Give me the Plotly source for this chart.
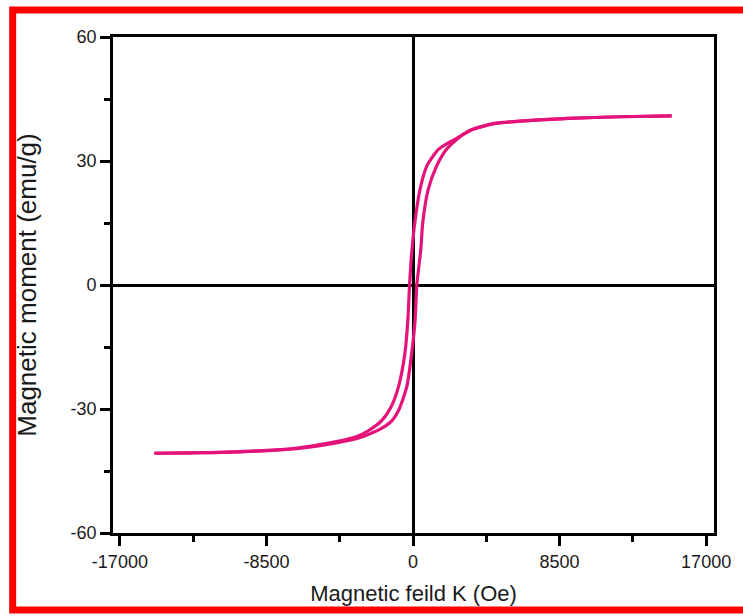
import plotly.graph_objects as go

# Descending branch (field swept from +15000 to -15000 Oe)
H_desc = [15000, 12000, 9000, 6400, 4700, 3350, 2450, 1900, 1445, 1100, 780, 400, 100,
          -60, -200, -300, -470, -840, -1250, -1790, -2570, -3300, -4450, -5800, -7300,
          -9000, -11100, -13000, -15000]
M_desc = [40.9, 40.7, 40.3, 39.7, 39.1, 37.5, 35.3, 34.0, 32.7, 30.8, 28.6, 23.0, 14.9,
          8.5, 0.0, -8.5, -16.5, -24.6, -29.3, -32.7, -35.2, -36.7, -37.9, -38.9, -39.7,
          -40.1, -40.5, -40.6, -40.7]

# Ascending branch (field swept from -15000 back up)
H_asc = [-15000, -13000, -11100, -9000, -7300, -5800, -4450, -3300, -2570, -1800, -1216,
         -800, -361, -76, 120, 220, 450, 560, 875, 1350, 1920, 2500, 3350, 4700, 6400,
         9000, 12000, 15000]
M_asc = [-40.7, -40.6, -40.5, -40.2, -39.8, -39.1, -38.2, -37.2, -36.1, -34.6, -32.8,
         -30.0, -24.6, -16.5, -8.5, 0.0, 8.5, 14.9, 23.0, 28.6, 32.7, 35.1, 37.4, 39.0,
         39.7, 40.3, 40.7, 40.9]

x_ticks = [-17000, -8500, 0, 8500, 17000]
y_ticks = [-60, -30, 0, 30, 60]

color = "#E4137A"
fig = go.Figure()
fig.add_trace(go.Scatter(x=H_desc, y=M_desc, mode="lines",
                         line=dict(color=color, width=3.2, shape="spline", smoothing=0.6),
                         showlegend=False))
fig.add_trace(go.Scatter(x=H_asc, y=M_asc, mode="lines",
                         line=dict(color=color, width=3.2, shape="spline", smoothing=0.6),
                         showlegend=False))

font = "Arial, Liberation Sans, sans-serif"
txt = "#1a1a1a"
axis_common = dict(showline=True, mirror=True, linecolor="black", linewidth=2.8,
                   ticks="outside", ticklen=10, tickwidth=2.8, tickcolor="black",
                   showgrid=False, zeroline=True, zerolinecolor="black", zerolinewidth=2.6,
                   tickfont=dict(family=font, size=18, color=txt))

fig.update_xaxes(range=[-17400, 17456], tickvals=x_ticks, ticktext=[str(v) for v in x_ticks],
                 minor=dict(ticks="outside", ticklen=6, tickwidth=2.5, tickcolor="black",
                            tickvals=[-12750, -4250, 4250, 12750]),
                 title=dict(text="Magnetic feild K (Oe)", font=dict(family=font, size=22, color=txt),
                            standoff=16),
                 **axis_common)
fig.update_yaxes(range=[-60, 60], tickvals=y_ticks, ticktext=[str(v) for v in y_ticks],
                 minor=dict(ticks="outside", ticklen=6, tickwidth=2.5, tickcolor="black",
                            tickvals=[-45, -15, 15, 45]),
                 title=dict(text="Magnetic moment (emu/g)", font=dict(family=font, size=26, color=txt),
                            standoff=27),
                 **axis_common)

W, H = 743, 616
ml, mr, mt, mb = 113, 19, 37, 83
pw, ph = W - ml - mr, H - mt - mb

def px_x(p):
    return (p - ml) / pw

def px_y(p):
    return (H - mb - p) / ph

fig.add_shape(type="rect", xref="paper", yref="paper",
              x0=px_x(11), x1=px_x(770), y0=px_y(610), y1=px_y(10),
              line=dict(color="#FF0000", width=7), fillcolor="rgba(0,0,0,0)", layer="above")

fig.update_layout(width=W, height=H, margin=dict(l=ml, r=mr, t=mt, b=mb),
                  plot_bgcolor="white", paper_bgcolor="white",
                  font=dict(family=font))

fig.write_html("out.html")
